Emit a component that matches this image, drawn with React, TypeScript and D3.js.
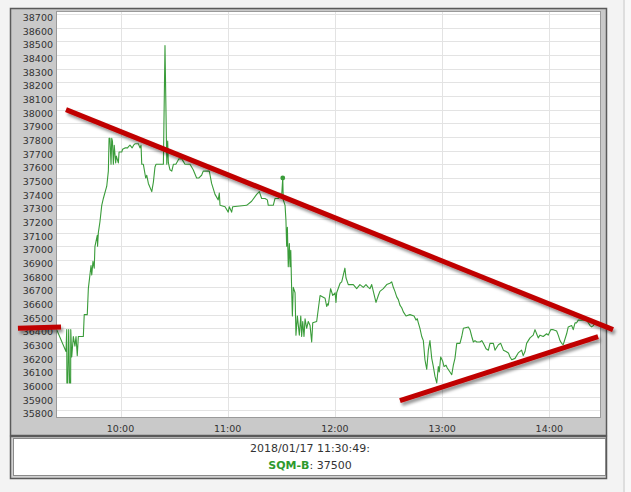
import React from "react";
import * as d3 from "d3";

const yTicks: number[] = [35800, 35900, 36000, 36100, 36200, 36300, 36400, 36500, 36600, 36700, 36800, 36900, 37000, 37100, 37200, 37300, 37400, 37500, 37600, 37700, 37800, 37900, 38000, 38100, 38200, 38300, 38400, 38500, 38600, 38700];
const xTicks: string[] = ["10:00", "11:00", "12:00", "13:00", "14:00"];

const priceSeries: [string, number][] = [
  ["09:24:18", 36390], ["09:29:30", 36230], ["09:29:54", 36390], ["09:30:00", 36000], ["09:30:30", 36000],
  ["09:31:00", 36390], ["09:31:30", 36000], ["09:32:06", 36000], ["09:32:10", 36390], ["09:32:42", 36190],
  ["09:33:36", 36340], ["09:34:30", 36270], ["09:35:06", 36340], ["09:35:48", 36200], ["09:36:24", 36340],
  ["09:39:12", 36340], ["09:39:42", 36500], ["09:41:24", 36500], ["09:42:00", 36690], ["09:43:30", 36860],
  ["09:43:54", 36790], ["09:44:36", 36890], ["09:45:18", 36840], ["09:45:42", 37000], ["09:47:00", 37080],
  ["09:47:10", 37000], ["09:47:36", 37100], ["09:48:30", 37180], ["09:49:30", 37300], ["09:50:24", 37350],
  ["09:52:18", 37440], ["09:53:12", 37550], ["09:53:36", 37790], ["09:54:06", 37790], ["09:54:42", 37600],
  ["09:55:06", 37790], ["09:55:30", 37770], ["09:56:00", 37600], ["09:56:30", 37740], ["09:57:18", 37610],
  ["09:57:40", 37660], ["09:58:48", 37610], ["09:59:12", 37690], ["10:00:42", 37690], ["10:01:10", 37710],
  ["10:02:30", 37720], ["10:04:00", 37720], ["10:04:30", 37730], ["10:05:18", 37740], ["10:06:30", 37720],
  ["10:07:20", 37740], ["10:08:06", 37750], ["10:10:00", 37750], ["10:10:54", 37720], ["10:11:30", 37740],
  ["10:11:54", 37600], ["10:12:48", 37600], ["10:14:06", 37500], ["10:14:42", 37520], ["10:15:36", 37460],
  ["10:17:30", 37400], ["10:18:24", 37470], ["10:19:18", 37580], ["10:19:54", 37600], ["10:24:00", 37600],
  ["10:24:54", 38470], ["10:25:54", 37600], ["10:26:24", 37770], ["10:26:48", 37610], ["10:27:42", 37560],
  ["10:28:42", 37550], ["10:29:36", 37600], ["10:31:00", 37600], ["10:32:42", 37640], ["10:34:18", 37640],
  ["10:36:06", 37600], ["10:38:54", 37600], ["10:40:42", 37560], ["10:42:36", 37500], ["10:43:54", 37500],
  ["10:45:24", 37520], ["10:46:18", 37550], ["10:49:42", 37550], ["10:51:00", 37460], ["10:52:54", 37380],
  ["10:54:42", 37340], ["10:55:18", 37390], ["10:55:42", 37300], ["10:58:30", 37290], ["11:00:18", 37250],
  ["11:00:54", 37290], ["11:02:12", 37250], ["11:02:48", 37290], ["11:10:36", 37300], ["11:13:24", 37330],
  ["11:16:12", 37380], ["11:17:42", 37400], ["11:19:00", 37350], ["11:20:54", 37350], ["11:22:12", 37340],
  ["11:22:42", 37300], ["11:25:30", 37300], ["11:26:30", 37350], ["11:28:18", 37350], ["11:30:12", 37370],
  ["11:30:49", 37500], ["11:31:06", 37340], ["11:32:06", 37300], ["11:32:36", 37190], ["11:33:00", 37000],
  ["11:33:24", 37140], ["11:33:54", 36850], ["11:34:30", 37020], ["11:34:54", 36850], ["11:35:18", 36970],
  ["11:35:48", 36680], ["11:36:12", 36490], ["11:36:42", 36700], ["11:37:42", 36660], ["11:38:12", 36350],
  ["11:39:00", 36490], ["11:40:06", 36350], ["11:40:54", 36490], ["11:41:24", 36340], ["11:42:00", 36450],
  ["11:42:42", 36340], ["11:43:18", 36470], ["11:44:12", 36400], ["11:45:06", 36450], ["11:46:06", 36420],
  ["11:47:00", 36300], ["11:47:36", 36440], ["11:49:48", 36450], ["11:51:42", 36640], ["11:54:30", 36620],
  ["11:55:24", 36560], ["11:56:00", 36580], ["11:56:18", 36570], ["11:57:36", 36690], ["11:58:48", 36640],
  ["12:00:06", 36660], ["12:00:36", 36590], ["12:01:00", 36660], ["12:02:54", 36730], ["12:03:48", 36740],
  ["12:04:42", 36790], ["12:05:36", 36840], ["12:06:12", 36770], ["12:07:30", 36720], ["12:10:18", 36720],
  ["12:12:12", 36690], ["12:14:00", 36720], ["12:15:54", 36700], ["12:17:24", 36720], ["12:18:42", 36700],
  ["12:19:36", 36690], ["12:20:36", 36720], ["12:21:30", 36670], ["12:23:00", 36590], ["12:24:18", 36640],
  ["12:25:12", 36670], ["12:27:06", 36690], ["12:29:00", 36720], ["12:30:48", 36730], ["12:31:48", 36740],
  ["12:32:42", 36700], ["12:33:36", 36670], ["12:34:36", 36630], ["12:35:30", 36610], ["12:36:24", 36570],
  ["12:37:24", 36550], ["12:38:18", 36520], ["12:39:48", 36490], ["12:42:00", 36500], ["12:44:18", 36490],
  ["12:45:24", 36460], ["12:46:06", 36470], ["12:46:42", 36440], ["12:47:36", 36400], ["12:48:36", 36340],
  ["12:49:30", 36310], ["12:50:24", 36170], ["12:51:24", 36100], ["12:52:18", 36240], ["12:53:12", 36310],
  ["12:54:12", 36180], ["12:55:06", 36120], ["12:56:00", 36050], ["12:57:00", 36000], ["12:57:54", 36120],
  ["12:58:24", 36080], ["12:59:12", 36190], ["13:00:18", 36160], ["13:01:06", 36120], ["13:02:12", 36130],
  ["13:02:54", 36110], ["13:04:24", 36080], ["13:05:24", 36060], ["13:06:18", 36130], ["13:07:12", 36180],
  ["13:08:12", 36290], ["13:10:00", 36290], ["13:11:00", 36340], ["13:11:54", 36400], ["13:14:42", 36410],
  ["13:15:36", 36390], ["13:16:36", 36340], ["13:17:30", 36300], ["13:18:24", 36310], ["13:19:24", 36300],
  ["13:21:12", 36300], ["13:22:12", 36310], ["13:23:06", 36290], ["13:24:36", 36250], ["13:25:54", 36240],
  ["13:26:48", 36290], ["13:28:42", 36290], ["13:29:36", 36240], ["13:31:30", 36280], ["13:32:48", 36290],
  ["13:34:18", 36240], ["13:35:48", 36230], ["13:37:06", 36220], ["13:38:00", 36190], ["13:39:00", 36170],
  ["13:40:48", 36180], ["13:42:36", 36220], ["13:44:30", 36240], ["13:45:24", 36200], ["13:46:24", 36230],
  ["13:47:18", 36290], ["13:49:12", 36330], ["13:51:00", 36350], ["13:52:00", 36390], ["13:52:54", 36360],
  ["13:53:48", 36330], ["13:54:48", 36350], ["13:56:36", 36340], ["13:58:30", 36360], ["13:59:24", 36350],
  ["14:00:48", 36390], ["14:02:12", 36390], ["14:04:06", 36380], ["14:05:00", 36350], ["14:06:00", 36310],
  ["14:06:54", 36290], ["14:07:48", 36280], ["14:09:42", 36360], ["14:10:36", 36410], ["14:12:30", 36420],
  ["14:13:24", 36390], ["14:14:24", 36440], ["14:15:18", 36440], ["14:16:12", 36460], ["14:19:00", 36460],
  ["14:20:54", 36460], ["14:22:48", 36420], ["14:23:42", 36410], ["14:24:36", 36420], ["14:25:36", 36440],
  ["14:27:24", 36450],
];

const trendLines: [string, number][][] = [
  [["09:29:30", 38000], ["14:35:40", 36390]],
  [["12:36:24", 35870], ["14:27:18", 36340]],
  [["09:02:36", 36400], ["09:26:42", 36410]],
];

const highlightTime = "11:30:49";
const highlightValue = 37500;
const highlightDate = "2018/01/17";
const symbolName = "SQM-B";

const W = 631;
const H = 492;
const plot = { left: 57, top: 12, right: 600, bottom: 417 };
const FONT = "'DejaVu Sans', Verdana, sans-serif";

export default function App() {
  const parse = d3.timeParse("%H:%M:%S");
  const pt = (s: string) => parse(s.length === 5 ? s + ":00" : s) as Date;

  const x = d3.scaleTime().domain([pt("10:00"), pt("14:00")]).range([120.5, 549.3]);
  const y = d3.scaleLinear().domain([35800, 38700]).range([410.3, 14]);

  const line = d3
    .line<[string, number]>()
    .x((d) => x(pt(d[0])))
    .y((d) => y(d[1]));

  const snap = (v: number) => Math.round(v) + 0.5;

  return (
    <svg width={W} height={H} style={{ position: "absolute", left: 0, top: 0, display: "block" }}>
      <defs>
        <filter id="shadow" x="-10%" y="-50%" width="120%" height="200%">
          <feDropShadow dx="2" dy="3" stdDeviation="1.6" floodColor="#000" floodOpacity="0.4" />
        </filter>
        <clipPath id="plotclip">
          <rect x={plot.left} y={plot.top} width={plot.right - plot.left} height={plot.bottom - plot.top} />
        </clipPath>
      </defs>

      <rect x={0} y={0} width={W} height={H} fill="#f3f3f3" />
      <rect x={623} y={0} width={2} height={H} fill="#dedede" />
      <rect x={625} y={0} width={6} height={H} fill="#f8f8f8" />

      {/* chart panel */}
      <rect x={10.5} y={8.5} width={596} height={427} fill="#c9c9c9" stroke="#5a5a5a" strokeWidth={1.5} />
      <rect x={plot.left} y={plot.top} width={plot.right - plot.left} height={plot.bottom - plot.top} fill="#ffffff" />

      {/* grid */}
      {yTicks.map((v) => (
        <line key={"gy" + v} x1={plot.left} x2={plot.right} y1={snap(y(v))} y2={snap(y(v))} stroke="#e3e3e3" strokeWidth={1} />
      ))}
      {xTicks.map((t) => (
        <line key={"gx" + t} x1={snap(x(pt(t)))} x2={snap(x(pt(t)))} y1={plot.top} y2={plot.bottom} stroke="#e3e3e3" strokeWidth={1} />
      ))}
      <rect x={plot.left - 0.5} y={plot.top - 0.5} width={plot.right - plot.left + 1} height={plot.bottom - plot.top + 1} fill="none" stroke="#9a9a9a" strokeWidth={1} />

      {/* y labels */}
      {yTicks.map((v) => (
        <text key={"ly" + v} x={53} y={y(v) + 3.5} textAnchor="end" dominantBaseline="central" fontFamily={FONT} fontSize={9.5} fill="#333">
          {v}
        </text>
      ))}
      {/* x labels */}
      {xTicks.map((t) => (
        <text key={"lx" + t} x={x(pt(t))} y={428} textAnchor="middle" dominantBaseline="central" fontFamily={FONT} fontSize={9.5} fill="#333">
          {t}
        </text>
      ))}

      {/* price line */}
      <g clipPath="url(#plotclip)">
        <path d={line(priceSeries) || ""} fill="none" stroke="#3a9c3a" strokeWidth={1.1} strokeLinejoin="round" />
        <circle cx={x(pt(highlightTime))} cy={y(highlightValue)} r={2.4} fill="#3a9c3a" />
      </g>

      {/* trend annotations */}
      <g filter="url(#shadow)">
        {trendLines.map((tl, i) => (
          <path key={"tl" + i} d={line(tl) || ""} fill="none" stroke="#c00000" strokeWidth={5} strokeLinecap="butt" />
        ))}
      </g>

      {/* info panel */}
      <rect x={10.5} y={436.5} width={596} height={42} fill="#d2d2d2" stroke="#5a5a5a" strokeWidth={1.5} />
      <rect x={13.5} y={438.5} width={592} height={37} fill="#ffffff" stroke="#8a8a8a" strokeWidth={1} />
      <text x={310} y={448.5} textAnchor="middle" dominantBaseline="central" fontFamily={FONT} fontSize={11} fill="#333">
        {highlightDate} {highlightTime}:
      </text>
      <text x={310} y={465} textAnchor="middle" dominantBaseline="central" fontFamily={FONT} fontSize={11} fill="#333">
        <tspan fill="#2e9a2e" fontWeight="bold">{symbolName}</tspan>
        <tspan>: {highlightValue}</tspan>
      </text>
    </svg>
  );
}
